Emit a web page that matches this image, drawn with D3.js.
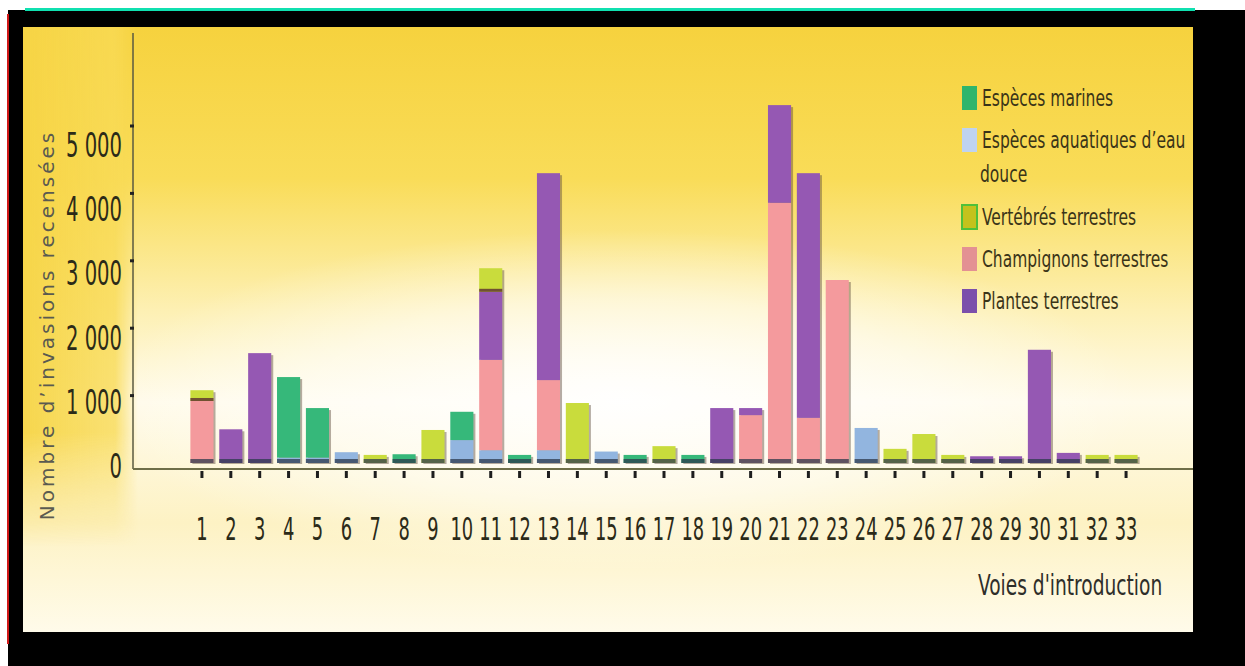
<!DOCTYPE html>
<html>
<head>
<meta charset="utf-8">
<script src="https://cdn.jsdelivr.net/npm/d3@7"></script>
<style>
  html, body { margin: 0; padding: 0; background: #fff; }
  svg { display: block; }
</style>
</head>
<body>
<div id="chart"></div>
<script>
// voies d'introduction 1..33
var voies = d3.range(1, 34).map(String);

// values (nombre d'invasions)
var marines     = [0,0,0,1195,735,0,0,130,0,420,0,120,0,0,0,120,0,120,0,0,0,0,0,0,0,0,0,0,0,0,0,0,0];
var aquatiques  = [0,0,0,80,80,160,0,0,0,340,190,0,190,0,170,0,0,0,0,0,0,0,0,520,0,0,0,0,0,0,0,0,0];
var champignons = [920,0,0,0,0,0,0,0,0,0,1340,0,1040,0,0,0,0,0,0,710,3860,670,2715,0,0,0,0,0,0,0,0,0,0];
var plantes     = [0,500,1630,0,0,0,0,0,0,0,1010,0,3070,0,0,0,0,0,815,105,1450,3630,0,0,0,0,0,100,100,1680,150,0,0];
var vertebres   = [160,0,0,0,0,0,120,0,490,0,350,0,0,890,0,0,250,0,0,0,0,0,0,0,210,430,120,0,0,0,0,120,120];

var yTicks = [0, 1000, 2000, 3000, 4000, 5000];

// stacking order bottom -> top
var stackKeys = ['aquatiques', 'marines', 'champignons', 'plantes', 'vertebres'];
// legend order
var legendKeys = ['marines', 'aquatiques', 'vertebres', 'champignons', 'plantes'];
var legendLabels = {
    marines: ['Espèces marines'],
    aquatiques: ['Espèces aquatiques d\u2019eau', 'douce'],
    vertebres: ['Vertébrés terrestres'],
    champignons: ['Champignons terrestres'],
    plantes: ['Plantes terrestres']
};

var barColor = d3.scaleOrdinal()
    .domain(stackKeys)
    .range(['#92b5df', '#36b87a', '#f49a9d', '#9558b3', '#c9dc3c']);
var legendColor = d3.scaleOrdinal()
    .domain(stackKeys)
    .range(['#bfd3f0', '#2fb56c', '#e39193', '#7b4fab', '#c4c21c']);

var table = voies.map(function(v, i) {
    return {
        voie: v,
        marines: marines[i],
        aquatiques: aquatiques[i],
        champignons: champignons[i],
        plantes: plantes[i],
        vertebres: vertebres[i]
    }
});

function total(d) {
    return d3.sum(stackKeys, function(k) { return d[k] })
}

var W = 1245, H = 666;
var svg = d3.select('#chart').append('svg')
    .attr('width', W)
    .attr('height', H);

var defs = svg.append('defs');
var bg = defs.append('linearGradient').attr('id', 'bg')
    .attr('x1', 0).attr('y1', 0).attr('x2', 0).attr('y2', 1);
bg.append('stop').attr('offset', '0%').attr('stop-color', '#f6d23e');
bg.append('stop').attr('offset', '25%').attr('stop-color', '#f9dc58');
bg.append('stop').attr('offset', '47%').attr('stop-color', '#fdf0b4');
bg.append('stop').attr('offset', '62%').attr('stop-color', '#fffbea');
bg.append('stop').attr('offset', '82%').attr('stop-color', '#fdf2c4');
bg.append('stop').attr('offset', '100%').attr('stop-color', '#fffbea');

var glow = defs.append('radialGradient').attr('id', 'glow')
    .attr('cx', 0.5).attr('cy', 0.5).attr('r', 0.5);
glow.append('stop').attr('offset', '0%').attr('stop-color', '#ffffff').attr('stop-opacity', 0.95);
glow.append('stop').attr('offset', '60%').attr('stop-color', '#ffffff').attr('stop-opacity', 0.5);
glow.append('stop').attr('offset', '100%').attr('stop-color', '#ffffff').attr('stop-opacity', 0);

var leftBand = defs.append('linearGradient').attr('id', 'leftBand')
    .attr('x1', 0).attr('y1', 0).attr('x2', 1).attr('y2', 0);
leftBand.append('stop').attr('offset', '0%').attr('stop-color', '#f6d445').attr('stop-opacity', 0.95);
leftBand.append('stop').attr('offset', '80%').attr('stop-color', '#f8da55').attr('stop-opacity', 0.8);
leftBand.append('stop').attr('offset', '100%').attr('stop-color', '#f8da55').attr('stop-opacity', 0);

var fadeDown = defs.append('linearGradient').attr('id', 'fadeDown')
    .attr('x1', 0).attr('y1', 0).attr('x2', 0).attr('y2', 1);
fadeDown.append('stop').attr('offset', '0%').attr('stop-color', '#fff');
fadeDown.append('stop').attr('offset', '78%').attr('stop-color', '#fff');
fadeDown.append('stop').attr('offset', '100%').attr('stop-color', '#000');
defs.append('mask').attr('id', 'bandMask')
    .attr('maskContentUnits', 'objectBoundingBox')
    .append('rect').attr('width', 1).attr('height', 1).attr('fill', 'url(#fadeDown)');

// frame
svg.append('rect').attr('x', 8).attr('y', 10).attr('width', W - 8).attr('height', H - 10).attr('fill', '#000');
svg.append('rect').attr('x', 25).attr('y', 8).attr('width', 1170).attr('height', 3).attr('fill', '#10e0b0');
svg.append('rect').attr('x', 7).attr('y', 14).attr('width', 2).attr('height', 630).attr('fill', '#d01818');

var panel = { x: 23, y: 27, w: 1170, h: 605 };
svg.append('rect').attr('x', panel.x).attr('y', panel.y).attr('width', panel.w).attr('height', panel.h)
    .attr('fill', 'url(#bg)');
svg.append('ellipse').attr('cx', 620).attr('cy', 400).attr('rx', 520).attr('ry', 170)
    .attr('fill', 'url(#glow)');
svg.append('rect').attr('x', panel.x).attr('y', panel.y).attr('width', 115).attr('height', 520)
    .attr('fill', 'url(#leftBand)')
    .attr('mask', 'url(#bandMask)');

var x = d3.scaleBand()
    .domain(voies)
    .range([187.5, 1140.5])
    .paddingInner(0.2)
    .paddingOuter(0.1);

var y = d3.scaleLinear()
    .domain([0, 5000])
    .range([463, 126]);

// tick labels sit a little off their tick marks in the original
var yLabel = d3.scaleLinear()
    .domain([0, 5000])
    .range([466, 145]);

var narrow = '"DejaVu Sans Condensed", "DejaVu Sans", sans-serif';

var stacked = d3.stack().keys(stackKeys)(table);

var barsG = svg.append('g');
var filled = table.filter(function(d) { return total(d) > 0 });

// shadow behind each full bar
barsG.selectAll('rect.shadow')
    .data(filled)
    .enter().append('rect')
    .attr('class', 'shadow')
    .attr('x', function(d) { return x(d.voie) + 2 })
    .attr('y', function(d) { return y(total(d)) + 2 })
    .attr('width', x.bandwidth())
    .attr('height', function(d) { return y(0) - y(total(d)) - 1 })
    .attr('fill', '#5b4a3a')
    .attr('opacity', 0.45);

var layer = barsG.selectAll('g.layer')
    .data(stacked)
    .enter().append('g')
    .attr('class', 'layer')
    .attr('fill', function(d) { return barColor(d.key) });

layer.selectAll('rect')
    .data(function(d) { return d.map(function(p, i) { return { key: d.key, voie: voies[i], y0: p[0], y1: p[1] } }) })
    .enter().filter(function(d) { return d.y1 > d.y0 })
    .append('rect')
    .attr('x', function(d) { return x(d.voie) })
    .attr('y', function(d) { return y(d.y1) })
    .attr('width', x.bandwidth())
    .attr('height', function(d) { return y(d.y0) - y(d.y1) });

// thin dark line under the vertebres block where it sits on another block
layer.filter(function(d) { return d.key === 'vertebres' })
    .selectAll('rect.sep')
    .data(function(d) { return d.map(function(p, i) { return { voie: voies[i], y0: p[0], y1: p[1] } }) })
    .enter().filter(function(d) { return d.y1 > d.y0 && d.y0 > 0 })
    .append('rect')
    .attr('class', 'sep')
    .attr('x', function(d) { return x(d.voie) })
    .attr('y', function(d) { return y(d.y0) - 3 })
    .attr('width', x.bandwidth())
    .attr('height', 3)
    .attr('fill', '#5a2e2e')
    .attr('opacity', 0.8);

// dark foot of each bar
barsG.selectAll('rect.foot')
    .data(filled)
    .enter().append('rect')
    .attr('class', 'foot')
    .attr('x', function(d) { return x(d.voie) })
    .attr('y', y(0) - 4)
    .attr('width', x.bandwidth())
    .attr('height', 4)
    .attr('fill', '#2c3a4c')
    .attr('opacity', 0.75);

// y axis
var axisY = svg.append('g');
axisY.append('line')
    .attr('x1', 133).attr('x2', 133)
    .attr('y1', 33).attr('y2', y(0) + 6)
    .attr('stroke', '#5a5a40').attr('stroke-width', 1.5);
axisY.selectAll('rect.tick')
    .data(yTicks.filter(function(d) { return d > 0 }))
    .enter().append('rect')
    .attr('x', 130).attr('width', 4)
    .attr('y', function(d) { return y(d) - 1.5 }).attr('height', 3)
    .attr('fill', '#222');
axisY.selectAll('text')
    .data(yTicks)
    .enter().append('text')
    .attr('transform', function(d) { return 'translate(122,' + (yLabel(d) + 12) + ') scale(0.64,1)' })
    .attr('text-anchor', 'end')
    .style('font-family', narrow)
    .style('font-size', '34px')
    .style('fill', '#2b2a18')
    .text(function(d) { return d === 0 ? '0' : d3.format(',')(d).replace(',', ' ') });

svg.append('text')
    .attr('transform', 'translate(54,325) rotate(-90)')
    .attr('text-anchor', 'middle')
    .style('font-family', '"DejaVu Sans", Verdana, sans-serif')
    .style('font-size', '20px')
    .style('letter-spacing', '3px')
    .style('fill', '#5a5a50')
    .text('Nombre d\u2019invasions recensées');

// x axis
var axisX = svg.append('g');
axisX.append('line')
    .attr('x1', 133).attr('x2', panel.x + panel.w)
    .attr('y1', y(0) + 6).attr('y2', y(0) + 6)
    .attr('stroke', '#6e6e48').attr('stroke-width', 2);
axisX.selectAll('rect.tick')
    .data(voies)
    .enter().append('rect')
    .attr('x', function(d) { return x(d) + x.bandwidth() / 2 - 1.5 })
    .attr('width', 3)
    .attr('y', y(0) + 8).attr('height', 7)
    .attr('fill', '#1e1e1e');
axisX.selectAll('text')
    .data(voies)
    .enter().append('text')
    .attr('transform', function(d) { return 'translate(' + (x(d) + x.bandwidth() / 2) + ',540) scale(0.62,1)' })
    .attr('text-anchor', 'middle')
    .style('font-family', narrow)
    .style('font-size', '32px')
    .style('fill', '#2b2a18')
    .text(function(d) { return d });

svg.append('text')
    .attr('transform', 'translate(978,595) scale(0.74,1)')
    .style('font-family', narrow)
    .style('font-size', '28px')
    .style('fill', '#2e2e2a')
    .text("Voies d'introduction");

// legend: the two-line entry pushes the next one down
var legendRows = [];
var rowY = 98;
legendKeys.forEach(function(k) {
    legendRows.push({ key: k, y: rowY });
    rowY += legendLabels[k].length === 2 ? 77 : 42;
});
var legend = svg.append('g');
var item = legend.selectAll('g.item')
    .data(legendRows)
    .enter().append('g')
    .attr('class', 'item')
    .attr('transform', function(d) { return 'translate(962,' + d.y + ')' });
item.append('rect')
    .attr('x', 0).attr('y', -12)
    .attr('width', 15).attr('height', 24)
    .attr('fill', function(d) { return legendColor(d.key) });
item.filter(function(d) { return d.key === 'vertebres' }).select('rect')
    .attr('stroke', '#4fc03a').attr('stroke-width', 2);
item.each(function(d) {
    var g = d3.select(this);
    legendLabels[d.key].forEach(function(line, i) {
        g.append('text')
            .attr('transform', 'translate(' + (i === 0 ? 20 : 18) + ',' + (8 + i * 34) + ') scale(0.75,1)')
            .style('font-family', narrow)
            .style('font-size', '23px')
            .style('fill', '#3a3418')
            .text(line);
    });
});
</script>
</body>
</html>
